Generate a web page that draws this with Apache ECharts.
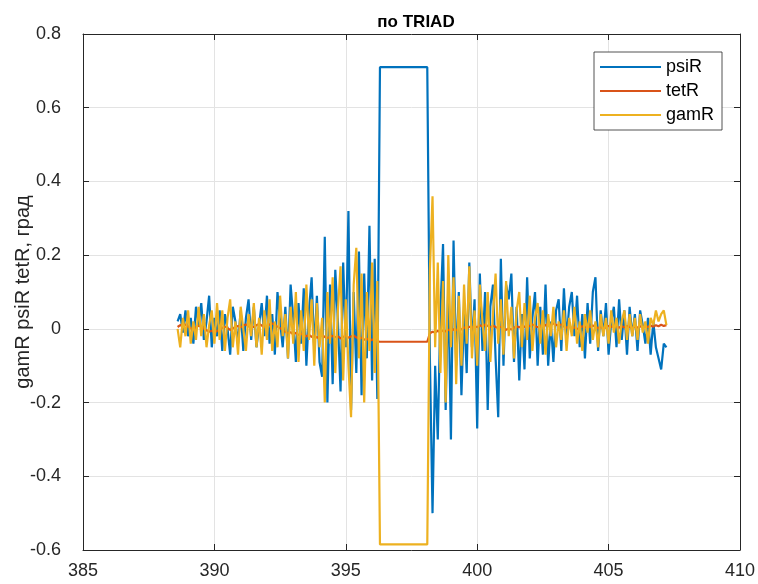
<!DOCTYPE html>
<html>
<head>
<meta charset="utf-8">
<script src="https://cdn.jsdelivr.net/npm/echarts@6/dist/echarts.min.js"></script>
<style>html,body{margin:0;padding:0;background:#fff}#c{width:758px;height:584px}</style>
</head>
<body>
<div id="c"></div>
<script>
var xTicks = [385, 390, 395, 400, 405, 410];
var yTicks = [-0.6, -0.4, -0.2, 0, 0.2, 0.4, 0.6, 0.8];
var seriesNames = ['psiR', 'tetR', 'gamR'];

var xValues = [
388.6,388.7,388.8,388.9,389.0,389.1,389.2,389.3,389.4,389.5,
389.6,389.7,389.8,389.9,390.0,390.1,390.2,390.3,390.4,390.5,
390.6,390.7,390.8,390.9,391.0,391.1,391.2,391.3,391.4,391.5,
391.6,391.7,391.8,391.9,392.0,392.1,392.2,392.3,392.4,392.5,
392.6,392.7,392.8,392.9,393.0,393.1,393.2,393.3,393.4,393.5,
393.6,393.7,393.8,393.9,394.0,394.1,394.2,394.3,394.4,394.5,
394.6,394.7,394.8,394.9,395.0,395.1,395.2,395.3,395.4,395.5,
395.6,395.7,395.8,395.9,396.0,396.1,396.2,396.3,396.4,396.5,
396.6,396.7,396.8,396.9,397.0,397.1,397.2,397.3,397.4,397.5,
397.6,397.7,397.8,397.9,398.0,398.1,398.2,398.3,398.4,398.5,
398.6,398.7,398.8,398.9,399.0,399.1,399.2,399.3,399.4,399.5,
399.6,399.7,399.8,399.9,400.0,400.1,400.2,400.3,400.4,400.5,
400.6,400.7,400.8,400.9,401.0,401.1,401.2,401.3,401.4,401.5,
401.6,401.7,401.8,401.9,402.0,402.1,402.2,402.3,402.4,402.5,
402.6,402.7,402.8,402.9,403.0,403.1,403.2,403.3,403.4,403.5,
403.6,403.7,403.8,403.9,404.0,404.1,404.2,404.3,404.4,404.5,
404.6,404.7,404.8,404.9,405.0,405.1,405.2,405.3,405.4,405.5,
405.6,405.7,405.8,405.9,406.0,406.1,406.2,406.3,406.4,406.5,
406.6,406.7,406.8,406.9,407.0,407.1,407.2
];

var psiR = [
0.02,0.04,-0.01,0.05,-0.02,0.03,-0.04,0.06,0.01,0.07,
-0.03,0.02,0.09,-0.05,0.03,-0.02,0.05,-0.06,0.04,0.00,
-0.07,0.06,0.02,-0.04,0.05,-0.06,0.03,0.08,-0.03,0.06,
-0.05,0.01,0.07,-0.02,0.09,-0.04,0.04,-0.07,0.10,0.02,
-0.05,0.06,-0.08,0.12,0.03,-0.09,0.07,-0.04,0.11,-0.10,
0.05,0.14,-0.06,0.09,-0.09,-0.13,0.25,-0.20,0.12,-0.15,
0.16,0.02,-0.17,0.18,-0.05,0.32,-0.22,0.10,-0.12,0.21,
-0.18,0.15,-0.08,0.28,-0.14,0.19,-0.19,
0.71,0.71,0.71,0.71,0.71,0.71,0.71,0.71,0.71,0.71,
0.71,0.71,0.71,0.71,0.71,0.71,0.71,0.71,0.71,
-0.08,-0.50,-0.10,-0.30,0.05,0.23,-0.22,0.12,-0.30,0.24,
-0.10,0.10,-0.18,0.05,-0.12,0.18,-0.05,0.08,-0.27,0.15,
-0.06,0.10,-0.22,0.06,0.12,-0.08,-0.24,0.19,-0.10,0.12,
0.08,0.15,-0.09,0.06,-0.14,0.04,-0.11,0.14,-0.08,0.03,
0.10,-0.10,0.06,-0.07,0.12,-0.10,0.02,-0.09,0.05,0.08,
-0.06,0.11,-0.03,0.06,0.10,-0.02,0.09,-0.05,0.04,-0.08,
0.07,-0.04,0.10,0.14,-0.06,0.05,-0.02,0.07,-0.07,0.02,
0.06,-0.05,0.08,-0.03,0.05,-0.07,0.06,-0.02,0.04,-0.06,
0.05,0.01,-0.04,0.03,-0.07,0.02,-0.05,-0.08,-0.11,-0.04,
-0.05
];

var tetR = [
0.005,0.01,0.008,0.012,0.006,0.002,-0.003,0.004,0.009,0.006,
0.001,-0.004,-0.008,-0.005,-0.01,-0.006,-0.002,0.003,0.006,0.002,
-0.003,0.001,0.005,0.008,0.004,0.009,0.012,0.007,0.003,0.006,
0.01,0.013,0.009,0.005,0.008,0.012,0.015,0.01,0.006,0.002,
-0.003,-0.008,-0.012,-0.009,-0.015,-0.011,-0.017,-0.013,-0.018,-0.02,
-0.016,-0.022,-0.018,-0.024,-0.02,-0.017,-0.022,-0.025,-0.021,-0.019,
-0.023,-0.02,-0.026,-0.022,-0.019,-0.024,-0.021,-0.018,-0.023,-0.027,
-0.024,-0.03,-0.026,-0.033,-0.029,-0.031,-0.034,
-0.035,-0.035,-0.035,-0.035,-0.035,-0.035,-0.035,-0.035,-0.035,-0.035,
-0.035,-0.035,-0.035,-0.035,-0.035,-0.035,-0.035,-0.035,-0.035,
-0.012,-0.008,-0.01,-0.005,-0.009,-0.004,-0.007,-0.002,-0.006,-0.001,
-0.004,0.002,-0.002,0.004,0.001,0.006,0.003,0.008,0.004,0.01,
0.006,0.012,0.008,0.004,0.009,0.005,0.002,0.006,0.001,-0.003,
0.002,-0.002,0.003,0.007,0.004,0.009,0.005,0.011,0.007,0.012,
0.008,0.004,0.009,0.006,0.01,0.014,0.01,0.015,0.011,0.008,
0.012,0.007,0.003,0.006,0.001,0.004,-0.001,0.003,0.007,0.004,
0.008,0.005,0.009,0.006,0.002,0.005,0.001,0.004,0.008,0.005,
0.009,0.006,0.003,0.007,0.004,0.008,0.005,0.002,0.006,0.003,
0.007,0.004,0.008,0.005,0.009,0.006,0.01,0.007,0.011,0.008,
0.01
];

var gamR = [
0.00,-0.05,0.03,-0.02,0.05,-0.04,0.02,-0.03,0.06,-0.02,
0.04,-0.05,0.01,0.05,-0.04,0.07,-0.03,0.05,-0.06,0.03,
0.08,-0.05,0.02,-0.07,0.06,0.00,-0.06,0.04,-0.02,0.07,
-0.05,0.03,-0.07,0.05,-0.03,0.08,-0.06,0.02,-0.05,0.09,
-0.02,0.04,-0.08,0.06,-0.04,0.10,-0.09,0.05,-0.06,0.12,
-0.03,0.08,-0.10,0.07,-0.05,0.03,-0.20,0.10,-0.04,0.14,
-0.12,0.05,0.17,-0.14,0.08,-0.10,-0.24,0.12,0.22,-0.08,
0.15,-0.20,0.10,-0.06,0.18,-0.12,0.13,
-0.585,-0.585,-0.585,-0.585,-0.585,-0.585,-0.585,-0.585,-0.585,-0.585,
-0.585,-0.585,-0.585,-0.585,-0.585,-0.585,-0.585,-0.585,-0.585,
0.16,0.36,-0.05,0.18,-0.12,0.13,-0.20,0.20,-0.05,0.14,
-0.15,0.09,-0.10,0.12,-0.04,0.17,-0.08,0.05,-0.10,0.12,
0.02,-0.06,0.10,-0.09,0.04,0.15,-0.04,0.08,-0.07,0.13,
-0.02,0.06,-0.08,0.05,0.10,-0.05,0.07,-0.03,0.09,-0.06,
0.03,0.07,-0.04,0.05,-0.07,0.04,-0.02,0.06,-0.05,0.02,
-0.03,0.05,-0.06,0.03,-0.02,0.06,-0.04,0.02,-0.06,0.04,
-0.01,0.05,-0.03,0.02,-0.05,0.04,-0.02,0.03,-0.04,0.05,
-0.01,0.03,-0.04,0.02,0.05,-0.03,0.04,-0.02,0.03,-0.03,
0.04,-0.01,0.02,-0.04,0.03,0.01,0.05,0.02,0.04,0.05,
0.01
];

function zip(xs, ys) { var out = []; for (var i = 0; i < xs.length; i++) out.push([xs[i], ys[i]]); return out; }

var FONT = 'Liberation Sans, Arial, sans-serif';
var AX = '#262626';
var COLORS = ['#0072BD', '#D95319', '#EDB120'];
var chart = echarts.init(document.getElementById('c'), null, {renderer: 'canvas'});
var yFmt = function (v) { return Math.abs(v) < 1e-9 ? '0' : (+v).toFixed(1); };
var common = {
  axisLine: {show: true, onZero: false, lineStyle: {color: AX, width: 1}},
  axisTick: {show: true, inside: true, length: 6, lineStyle: {color: AX}}
};
chart.setOption({
  animation: false,
  backgroundColor: '#fff',
  title: {
    text: 'по TRIAD', left: 411, top: 9, textAlign: 'center',
    textStyle: {fontFamily: FONT, fontSize: 17, fontWeight: 'bold', color: '#000'}
  },
  grid: {left: 83, right: 18, top: 34, bottom: 34, containLabel: false, outerBoundsMode: 'none'},
  legend: {
    data: seriesNames.map(function (n) { return {name: n, icon: 'rect'}; }),
    orient: 'vertical', left: 594, top: 52,
    itemWidth: 61, itemHeight: 2, itemGap: 6,
    padding: [6, 8, 6, 6],
    borderColor: AX, borderWidth: 0.8, backgroundColor: '#fff',
    textStyle: {fontFamily: FONT, fontSize: 18, color: '#000', lineHeight: 17}
  },
  xAxis: [
    Object.assign({
      type: 'value', min: xTicks[0], max: xTicks[xTicks.length - 1], interval: 5, position: 'bottom',
      axisLabel: {fontFamily: FONT, fontSize: 18, color: AX, margin: 12},
      splitLine: {show: true, lineStyle: {color: '#e3e3e3', width: 1}}
    }, common),
    Object.assign({
      type: 'value', min: xTicks[0], max: xTicks[xTicks.length - 1], interval: 5, position: 'top',
      axisLabel: {show: false}, splitLine: {show: false}
    }, common)
  ],
  yAxis: [
    Object.assign({
      type: 'value', min: yTicks[0], max: yTicks[yTicks.length - 1], interval: 0.2, position: 'left',
      name: 'gamR psiR tetR, град', nameLocation: 'middle', nameGap: 50, nameMoveOverlap: false,
      nameTextStyle: {fontFamily: FONT, fontSize: 20, color: AX},
      axisLabel: {fontFamily: FONT, fontSize: 18, color: AX, margin: 22, formatter: yFmt},
      splitLine: {show: true, lineStyle: {color: '#e3e3e3', width: 1}}
    }, common),
    Object.assign({
      type: 'value', min: yTicks[0], max: yTicks[yTicks.length - 1], interval: 0.2, position: 'right',
      axisLabel: {show: false}, splitLine: {show: false}
    }, common)
  ],
  series: [
    {name: seriesNames[0], type: 'line', data: zip(xValues, psiR), symbol: 'none', lineStyle: {color: COLORS[0], width: 2.2}, itemStyle: {color: COLORS[0]}},
    {name: seriesNames[1], type: 'line', data: zip(xValues, tetR), symbol: 'none', lineStyle: {color: COLORS[1], width: 2.2}, itemStyle: {color: COLORS[1]}},
    {name: seriesNames[2], type: 'line', data: zip(xValues, gamR), symbol: 'none', lineStyle: {color: COLORS[2], width: 2.2}, itemStyle: {color: COLORS[2]}}
  ]
});
</script>
</body>
</html>
